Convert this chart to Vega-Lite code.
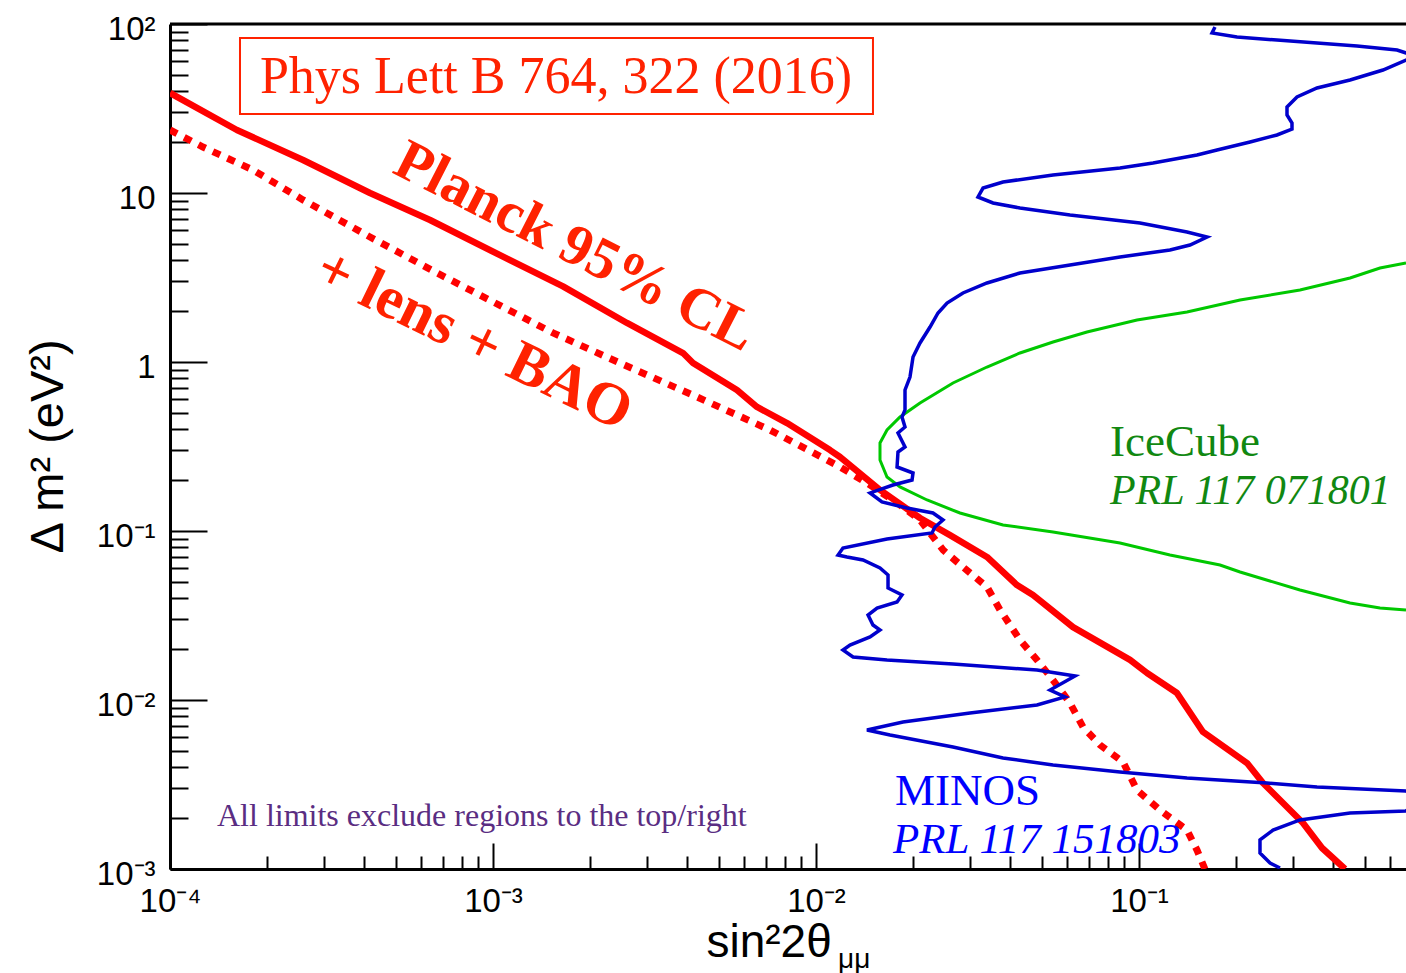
{
  "$schema": "https://vega.github.io/schema/vega-lite/v6.json",
  "width": 1236,
  "height": 845,
  "autosize": "none",
  "padding": {"left": 170, "top": 24, "right": 0, "bottom": 104},
  "background": "white",
  "config": {"view": {"stroke": null}},
  "datasets": {
    "planck": [
      {"x":0.0001,"y":39.1},{"x":0.0001611,"y":23.6},{"x":0.0002581,"y":15.67},{"x":0.0004161,"y":10.0},{"x":0.0006383,"y":6.92},{"x":0.001074,"y":4.2},{"x":0.001647,"y":2.8},{"x":0.002599,"y":1.702},{"x":0.003875,"y":1.13},{"x":0.004161,"y":0.986},{"x":0.005692,"y":0.682},{"x":0.006566,"y":0.542},{"x":0.008133,"y":0.4355},{"x":0.01105,"y":0.301},{"x":0.01187,"y":0.274},{"x":0.01578,"y":0.175},{"x":0.02099,"y":0.1194},{"x":0.02599,"y":0.0946},{"x":0.03383,"y":0.0702},{"x":0.0419,"y":0.0479},{"x":0.04697,"y":0.0418},{"x":0.06247,"y":0.027},{"x":0.0938,"y":0.01726},{"x":0.1059,"y":0.01445},{"x":0.1311,"y":0.01099},{"x":0.1578,"y":0.00647},{"x":0.216,"y":0.004236},{"x":0.242,"y":0.003228},{"x":0.3219,"y":0.001871},{"x":0.3687,"y":0.001331},{"x":0.4343,"y":0.001}
    ],
    "planckbao": [
      {"x":0.0001,"y":23.6},{"x":0.0001265,"y":18.71},{"x":0.0001807,"y":13.68},{"x":0.0002581,"y":9.1},{"x":0.0004161,"y":5.495},{"x":0.0006709,"y":3.365},{"x":0.001074,"y":2.115},{"x":0.001534,"y":1.486},{"x":0.002473,"y":0.986},{"x":0.004281,"y":0.621},{"x":0.007205,"y":0.396},{"x":0.01187,"y":0.2393},{"x":0.01438,"y":0.1923},{"x":0.0182,"y":0.1426},{"x":0.02099,"y":0.1161},{"x":0.02473,"y":0.0773},{"x":0.02851,"y":0.0612},{"x":0.03383,"y":0.0467},{"x":0.03713,"y":0.0341},{"x":0.04281,"y":0.02265},{"x":0.04833,"y":0.01726},{"x":0.05417,"y":0.01312},{"x":0.06115,"y":0.0096},{"x":0.06709,"y":0.00692},{"x":0.07574,"y":0.00542},{"x":0.08925,"y":0.0043},{"x":0.09858,"y":0.00293},{"x":0.1161,"y":0.002234},{"x":0.1408,"y":0.0017},{"x":0.1512,"y":0.001294},{"x":0.16,"y":0.001}
    ],
    "icecube": [
      {"x":0.6708,"y":3.853},{"x":0.5573,"y":3.599},{"x":0.4501,"y":3.141},{"x":0.3151,"y":2.667},{"x":0.2055,"y":2.328},{"x":0.1408,"y":1.977},{"x":0.09858,"y":1.772},{"x":0.06902,"y":1.505},{"x":0.05417,"y":1.313},{"x":0.04281,"y":1.131},{"x":0.03383,"y":0.934},{"x":0.02655,"y":0.751},{"x":0.02099,"y":0.572},{"x":0.0182,"y":0.4727},{"x":0.01659,"y":0.396},{"x":0.01578,"y":0.3317},{"x":0.01578,"y":0.2631},{"x":0.01659,"y":0.2087},{"x":0.0182,"y":0.1822},{"x":0.02207,"y":0.1526},{"x":0.02791,"y":0.1278},{"x":0.03793,"y":0.1085},{"x":0.05417,"y":0.09865},{"x":0.08734,"y":0.0849},{"x":0.1247,"y":0.0721},{"x":0.1782,"y":0.0629},{"x":0.2055,"y":0.0572},{"x":0.3151,"y":0.04476},{"x":0.4501,"y":0.0375},{"x":0.5573,"y":0.035},{"x":0.6708,"y":0.03407}
    ],
    "minos": [
      {"x":0.1719,"y":95.9},{"x":0.1683,"y":88.45},{"x":0.2011,"y":83.77},{"x":0.2674,"y":80.4},{"x":0.3557,"y":77.2},{"x":0.4731,"y":74.1},{"x":0.6293,"y":70.2},{"x":0.6708,"y":67.4},{"x":0.7413,"y":64.7},{"x":0.6708,"y":61.2},{"x":0.5692,"y":53.4},{"x":0.4501,"y":46.6},{"x":0.3557,"y":41.8},{"x":0.3084,"y":37.0},{"x":0.2872,"y":32.28},{"x":0.2872,"y":28.94},{"x":0.2976,"y":25.96},{"x":0.2976,"y":23.91},{"x":0.2674,"y":22.04},{"x":0.2207,"y":20.04},{"x":0.1744,"y":17.96},{"x":0.1512,"y":16.79},{"x":0.1105,"y":15.05},{"x":0.08734,"y":14.06},{"x":0.05417,"y":12.78},{"x":0.03793,"y":11.62},{"x":0.03289,"y":10.7},{"x":0.03173,"y":9.47},{"x":0.03532,"y":8.73},{"x":0.04281,"y":8.15},{"x":0.06115,"y":7.41},{"x":0.1007,"y":6.645},{"x":0.1408,"y":5.877},{"x":0.1624,"y":5.49},{"x":0.1438,"y":4.923},{"x":0.1247,"y":4.599},{"x":0.08734,"y":4.18},{"x":0.06115,"y":3.75},{"x":0.04281,"y":3.363},{"x":0.03383,"y":2.934},{"x":0.02851,"y":2.56},{"x":0.02545,"y":2.234},{"x":0.02386,"y":1.95},{"x":0.02254,"y":1.611},{"x":0.02099,"y":1.296},{"x":0.01997,"y":1.071},{"x":0.01954,"y":0.815},{"x":0.01886,"y":0.683},{"x":0.01886,"y":0.52},{"x":0.01846,"y":0.4727},{"x":0.01886,"y":0.4124},{"x":0.01794,"y":0.3801},{"x":0.01886,"y":0.314},{"x":0.01794,"y":0.2934},{"x":0.01782,"y":0.2392},{"x":0.01997,"y":0.2204},{"x":0.01983,"y":0.2003},{"x":0.01731,"y":0.1872},{"x":0.0147,"y":0.1679},{"x":0.016,"y":0.1485},{"x":0.01913,"y":0.1368},{"x":0.02302,"y":0.1278},{"x":0.02473,"y":0.1162},{"x":0.02335,"y":0.1056},{"x":0.02286,"y":0.09732},{"x":0.01659,"y":0.0897},{"x":0.01212,"y":0.07931},{"x":0.0117,"y":0.0721},{"x":0.01247,"y":0.0702},{"x":0.01398,"y":0.06737},{"x":0.01578,"y":0.06041},{"x":0.01671,"y":0.05492},{"x":0.01671,"y":0.046},{"x":0.01846,"y":0.0418},{"x":0.01782,"y":0.03801},{"x":0.01545,"y":0.035},{"x":0.01449,"y":0.03184},{"x":0.01501,"y":0.02779},{"x":0.01578,"y":0.02596},{"x":0.0147,"y":0.0236},{"x":0.01274,"y":0.02115},{"x":0.01212,"y":0.01976},{"x":0.01302,"y":0.01796},{"x":0.01659,"y":0.01726},{"x":0.02655,"y":0.01633},{"x":0.04833,"y":0.01505},{"x":0.06338,"y":0.01387},{"x":0.05303,"y":0.01146},{"x":0.05901,"y":0.01042},{"x":0.04833,"y":0.00934},{"x":0.02998,"y":0.00838},{"x":0.01859,"y":0.00741},{"x":0.01438,"y":0.00665},{"x":0.01695,"y":0.00621},{"x":0.02655,"y":0.00527},{"x":0.03793,"y":0.00454},{"x":0.05417,"y":0.004124},{"x":0.08734,"y":0.00375},{"x":0.1408,"y":0.003455},{"x":0.249,"y":0.003228},{"x":0.3557,"y":0.003056},{"x":0.6708,"y":0.002893},{"x":0.7413,"y":0.00256},{"x":0.6708,"y":0.002204},{"x":0.4501,"y":0.002145},{"x":0.3151,"y":0.00195},{"x":0.26,"y":0.0017},{"x":0.2369,"y":0.001485},{"x":0.2369,"y":0.001244},{"x":0.2545,"y":0.001085},{"x":0.2732,"y":0.001014}
    ],
    "frame": [{"x":0.0001,"y":100},{"x":0.6708,"y":100}],
    "box": [{"x":0.0001647,"x2":0.01501,"y":82.6,"y2":29.35}]
  },
  "encoding": {
    "x": {
      "field": "x", "type": "quantitative",
      "scale": {"type": "log", "domain": [0.0001, 0.6708], "nice": false},
      "axis": {
        "title": "sin²2θ",
        "values": [0.0001,0.0002,0.0003,0.0004,0.0005,0.0006,0.0007,0.0008,0.0009,0.001,0.002,0.003,0.004,0.005,0.006,0.007,0.008,0.009,0.01,0.02,0.03,0.04,0.05,0.06,0.07,0.08,0.09,0.1,0.2,0.3,0.4,0.5,0.6],
        "tickSize": {"condition": {"test": "abs(log(datum.value)/LN10 - round(log(datum.value)/LN10)) < 0.01", "value": -26}, "value": -13},
        "tickWidth": 2, "tickColor": "black",
        "domainColor": "black", "domainWidth": 3,
        "grid": false,
        "labelExpr": "abs(log(datum.value)/LN10 - round(log(datum.value)/LN10)) > 0.01 ? '' : round(log(datum.value)/LN10) == -4 ? '10⁻⁴' : round(log(datum.value)/LN10) == -3 ? '10⁻³' : round(log(datum.value)/LN10) == -2 ? '10⁻²' : round(log(datum.value)/LN10) == -1 ? '10⁻¹' : ''",
        "labelFont": "Liberation Sans", "labelFontSize": 33, "labelColor": "black",
        "labelPadding": 42, "labelOverlap": false, "labelFlush": false, "labelBound": false,
        "titleFont": "Liberation Sans", "titleFontSize": 46, "titleFontWeight": "normal", "titleColor": "black",
        "titleAlign": "left", "titleBaseline": "alphabetic", "titleX": 536, "titleY": 87
      }
    },
    "y": {
      "field": "y", "type": "quantitative",
      "scale": {"type": "log", "domain": [0.001, 100], "nice": false},
      "axis": {
        "title": "Δ m² (eV²)",
        "values": [0.001,0.002,0.003,0.004,0.005,0.006,0.007,0.008,0.009,0.01,0.02,0.03,0.04,0.05,0.06,0.07,0.08,0.09,0.1,0.2,0.3,0.4,0.5,0.6,0.7,0.8,0.9,1,2,3,4,5,6,7,8,9,10,20,30,40,50,60,70,80,90,100],
        "tickSize": {"condition": {"test": "abs(log(datum.value)/LN10 - round(log(datum.value)/LN10)) < 0.01", "value": -37}, "value": -18},
        "tickWidth": 2, "tickColor": "black",
        "domainColor": "black", "domainWidth": 3,
        "grid": false,
        "labelExpr": "abs(log(datum.value)/LN10 - round(log(datum.value)/LN10)) > 0.01 ? '' : round(log(datum.value)/LN10) == -3 ? '10⁻³' : round(log(datum.value)/LN10) == -2 ? '10⁻²' : round(log(datum.value)/LN10) == -1 ? '10⁻¹' : round(log(datum.value)/LN10) == 0 ? '1' : round(log(datum.value)/LN10) == 1 ? '10' : round(log(datum.value)/LN10) == 2 ? '10²' : ''",
        "labelFont": "Liberation Sans", "labelFontSize": 33, "labelColor": "black",
        "labelPadding": 52, "labelOffset": 5, "labelOverlap": false, "labelFlush": false, "labelBound": false,
        "labelAlign": "right", "labelBaseline": "middle",
        "titleFont": "Liberation Sans", "titleFontSize": 47, "titleFontWeight": "normal", "titleColor": "black",
        "titleAngle": -90, "titleAlign": "center", "titleBaseline": "middle", "titleX": -122, "titleY": 422
      }
    }
  },
  "layer": [
    {"data": {"name": "box"}, "mark": {"type": "rect", "fill": null, "stroke": "#ff2200", "strokeWidth": 2},
     "encoding": {"x2": {"field": "x2"}, "y2": {"field": "y2"}}},
    {"data": {"name": "frame"}, "mark": {"type": "line", "color": "black", "strokeWidth": 3}, "encoding": {"order": {"value": null}}},
    {"data": {"name": "planckbao"}, "mark": {"type": "line", "color": "#ff0000", "strokeWidth": 7, "strokeDash": [8, 8], "strokeCap": "butt", "clip": true}, "encoding": {"order": {"value": null}}},
    {"data": {"name": "planck"}, "mark": {"type": "line", "color": "#ff0000", "strokeWidth": 6.5, "strokeJoin": "round", "clip": true}, "encoding": {"order": {"value": null}}},
    {"data": {"name": "icecube"}, "mark": {"type": "line", "color": "#00c800", "strokeWidth": 3, "clip": true}, "encoding": {"order": {"value": null}}},
    {"data": {"name": "minos"}, "mark": {"type": "line", "color": "#0000cc", "strokeWidth": 3.5, "clip": true}, "encoding": {"order": {"value": null}}},
    {"data": {"values": [{"x": 0.001567, "y": 48.6, "t": "Phys Lett B 764, 322 (2016)"}]},
     "mark": {"type": "text", "font": "Liberation Serif", "fontSize": 52, "color": "#ff2200", "align": "center", "baseline": "middle"},
     "encoding": {"text": {"field": "t"}}},
    {"data": {"values": [{"x": 0.001795, "y": 4.792, "t": "Planck 95% CL"}]},
     "mark": {"type": "text", "font": "Liberation Serif", "fontSize": 58, "fontWeight": "bold", "color": "#ff2200", "align": "center", "baseline": "middle", "angle": 27},
     "encoding": {"text": {"field": "t"}}},
    {"data": {"values": [{"x": 0.0008734, "y": 1.35, "t": "+ lens + BAO"}]},
     "mark": {"type": "text", "font": "Liberation Serif", "fontSize": 60, "fontWeight": "bold", "color": "#ff2200", "align": "center", "baseline": "middle", "angle": 26},
     "encoding": {"text": {"field": "t"}}},
    {"data": {"values": [{"x": 0.0813, "y": 0.2779, "t": "IceCube"}]},
     "mark": {"type": "text", "font": "Liberation Serif", "fontSize": 45, "color": "#118811", "align": "left", "baseline": "alphabetic"},
     "encoding": {"text": {"field": "t"}}},
    {"data": {"values": [{"x": 0.0813, "y": 0.144, "t": "PRL 117 071801"}]},
     "mark": {"type": "text", "font": "Liberation Serif", "fontSize": 42, "fontStyle": "italic", "color": "#118811", "align": "left", "baseline": "alphabetic"},
     "encoding": {"text": {"field": "t"}}},
    {"data": {"values": [{"x": 0.01757, "y": 0.002392, "t": "MINOS"}]},
     "mark": {"type": "text", "font": "Liberation Serif", "fontSize": 45, "color": "#0000ff", "align": "left", "baseline": "alphabetic"},
     "encoding": {"text": {"field": "t"}}},
    {"data": {"values": [{"x": 0.01731, "y": 0.001244, "t": "PRL 117 151803"}]},
     "mark": {"type": "text", "font": "Liberation Serif", "fontSize": 43, "fontStyle": "italic", "color": "#0000ff", "align": "left", "baseline": "alphabetic"},
     "encoding": {"text": {"field": "t"}}},
    {"data": {"values": [{"x": 0.0001398, "y": 0.001796, "t": "All limits exclude regions to the top/right"}]},
     "mark": {"type": "text", "font": "Liberation Serif", "fontSize": 32, "color": "#5a2d82", "align": "left", "baseline": "alphabetic"},
     "encoding": {"text": {"field": "t"}}},
    {"data": {"values": [{"x": 0.0117, "y": 0.0002595, "t": "μμ"}]},
     "mark": {"type": "text", "font": "Liberation Sans", "fontSize": 28, "color": "black", "align": "left", "baseline": "alphabetic", "clip": false},
     "encoding": {"text": {"field": "t"}}}
  ]
}
